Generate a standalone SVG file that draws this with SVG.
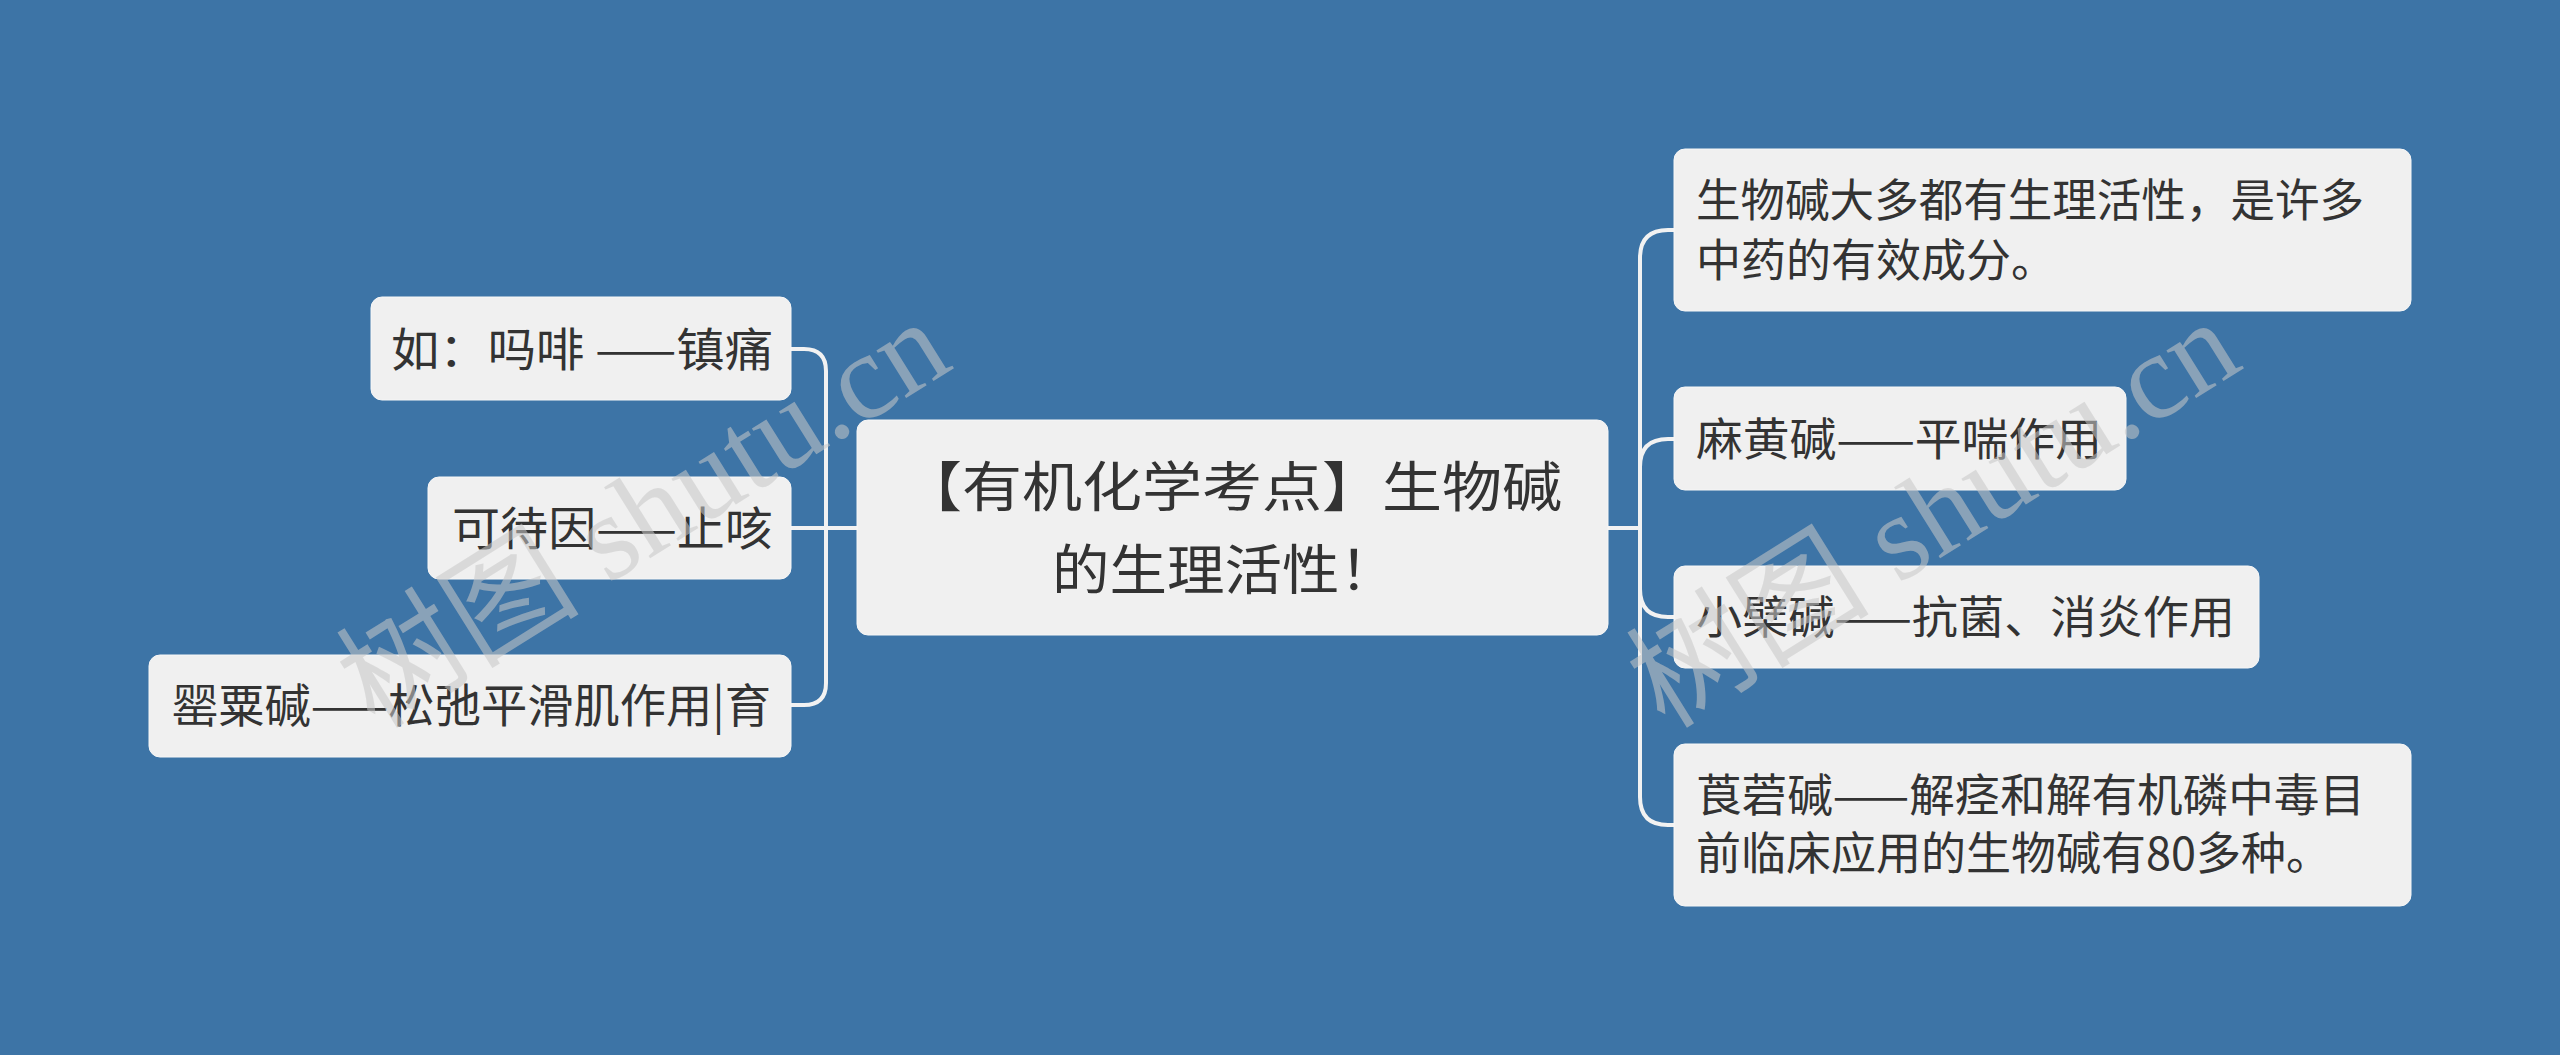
<svg xmlns="http://www.w3.org/2000/svg" width="2560" height="1055" viewBox="0 0 2560 1055">
<style>
.bg{fill:#3d74a6}
.node rect{fill:#f0f0f0;stroke:#f7f7f7;stroke-width:1}
.node text{font-family:"Noto Sans CJK SC","Noto Sans",sans-serif;fill:#333333}
.leaf{font-size:46px}
.leafr{font-size:45px}
.root{font-size:54px}
.conn path{fill:none;stroke:#f2f2f2;stroke-width:4;stroke-linecap:round}
.wm{font-family:"Liberation Serif","Noto Sans CJK SC",serif;font-size:122px;fill:#c8c8c8;opacity:0.55}
</style>
<rect class="bg" x="0" y="0" width="2560" height="1055"/>
<g id="connectors" class="conn">
<path d="M857,528 H826 V371 Q826,349 804,349 H791"/>
<path d="M857,528 H791"/>
<path d="M857,528 H826 V683 Q826,705 804,705 H791"/>
<path d="M1608,528 H1640 V258 Q1640,230 1668,230 H1674"/>
<path d="M1608,528 H1640 V467 Q1640,439 1668,439 H1674"/>
<path d="M1608,528 H1640 V589 Q1640,617 1668,617 H1674"/>
<path d="M1608,528 H1640 V797 Q1640,825 1668,825 H1674"/>
</g>
<g id="root" class="node">
<rect x="857" y="420" width="751" height="215" rx="11"/>
<text class="root" x="902" y="507" textLength="660" lengthAdjust="spacingAndGlyphs">【有机化学考点】生物碱</text>
<text class="root" x="1052" y="590" textLength="345" lengthAdjust="spacingAndGlyphs">的生理活性！</text>
</g>
<g id="l1" class="node">
<rect x="371" y="297" width="420" height="103" rx="11"/>
<text class="leaf" x="391" y="366" textLength="382" lengthAdjust="spacingAndGlyphs">如：吗啡 ——镇痛</text>
</g>
<g id="l2" class="node">
<rect x="428" y="477" width="363" height="102" rx="11"/>
<text class="leaf" x="452" y="545" textLength="321" lengthAdjust="spacingAndGlyphs">可待因——止咳</text>
</g>
<g id="l3" class="node">
<rect x="149" y="655" width="642" height="102" rx="11"/>
<text class="leaf" x="172" y="722" textLength="599" lengthAdjust="spacingAndGlyphs">罂粟碱——松弛平滑肌作用|育</text>
</g>
<g id="r1" class="node">
<rect x="1674" y="149" width="737" height="162" rx="11"/>
<text class="leafr" x="1696" y="217" textLength="668" lengthAdjust="spacingAndGlyphs">生物碱大多都有生理活性，是许多</text>
<text class="leafr" x="1696" y="277">中药的有效成分。</text>
</g>
<g id="r2" class="node">
<rect x="1674" y="387" width="452" height="103" rx="11"/>
<text class="leafr" x="1696" y="456" textLength="406" lengthAdjust="spacingAndGlyphs">麻黄碱——平喘作用</text>
</g>
<g id="r3" class="node">
<rect x="1674" y="566" width="585" height="102" rx="11"/>
<text class="leafr" x="1696" y="634" textLength="539" lengthAdjust="spacingAndGlyphs">小檗碱——抗菌、消炎作用</text>
</g>
<g id="r4" class="node">
<rect x="1674" y="744" width="737" height="162" rx="11"/>
<text class="leafr" x="1696" y="812" textLength="669" lengthAdjust="spacingAndGlyphs">莨菪碱——解痉和解有机磷中毒目</text>
<text class="leafr" x="1696" y="870">前临床应用的生物碱有80多种。</text>
</g>
<g id="watermarks">
<text class="wm" transform="translate(375,730) rotate(-32)">树图 shutu.cn</text>
<text class="wm" transform="translate(1665,730) rotate(-32)">树图 shutu.cn</text>
</g>
</svg>
